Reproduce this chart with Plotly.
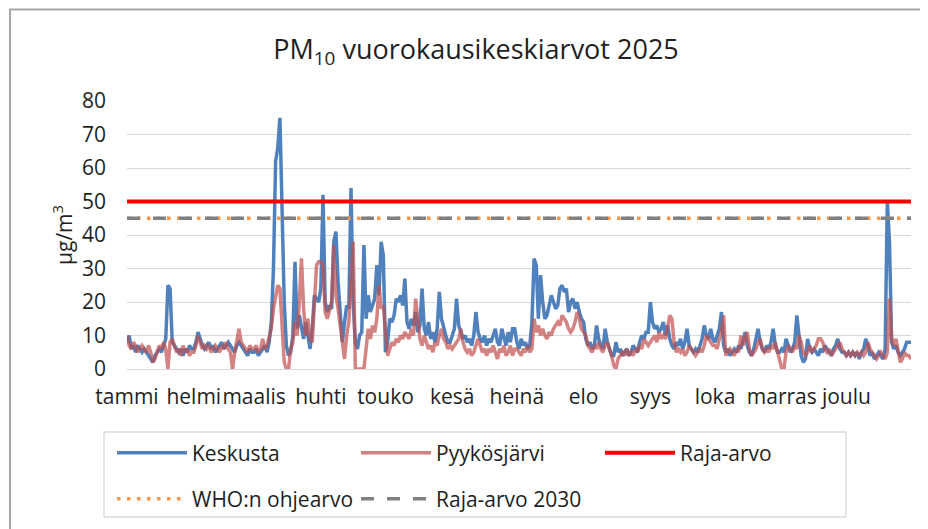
import pandas as pd
import plotly.graph_objects as go

# Päivittäiset PM10-keskiarvot 2025 (µg/m3), luettu kuvasta kuukausittain
keskusta = (
    [8, 10, 6, 7, 5, 7, 6, 5, 6, 5, 4, 3, 2, 4, 5, 6, 5, 7, 9, 25, 24, 8, 7, 6, 5, 6, 4, 6, 5, 7, 6]  # tammi
    + [6, 8, 11, 9, 7, 6, 7, 8, 6, 7, 5, 6, 7, 8, 6, 7, 8, 7, 6, 5, 7, 8, 7, 6, 5, 4, 6, 5]  # helmi
    + [5, 6, 4, 5, 6, 7, 5, 8, 14, 30, 62, 66, 75, 52, 20, 7, 4, 5, 10, 32, 12, 16, 12, 9, 14, 10, 6, 12, 22, 21, 20]  # maalis
    + [24, 52, 20, 17, 19, 18, 38, 41, 26, 16, 8, 14, 19, 18, 54, 20, 8, 6, 10, 11, 37, 15, 22, 17, 19, 21, 31, 22, 38, 34]  # huhti
    + [5, 8, 15, 14, 16, 21, 20, 22, 19, 27, 14, 12, 15, 13, 17, 11, 13, 24, 12, 10, 14, 9, 11, 8, 12, 23, 15, 12, 10, 8, 8]  # touko
    + [10, 12, 21, 13, 11, 9, 10, 8, 9, 7, 10, 17, 11, 9, 8, 10, 7, 9, 8, 10, 12, 8, 7, 12, 9, 7, 11, 8, 12, 12]  # kesä
    + [8, 6, 9, 7, 8, 6, 7, 14, 33, 31, 15, 28, 20, 15, 16, 19, 22, 20, 18, 19, 24, 25, 23, 24, 17, 20, 21, 18, 20, 17, 15]  # heinä
    + [14, 9, 7, 8, 6, 7, 13, 9, 7, 6, 12, 8, 6, 4, 4, 8, 5, 6, 4, 5, 6, 4, 5, 7, 6, 5, 8, 10, 9, 11, 11]  # elo
    + [20, 14, 12, 13, 11, 12, 14, 10, 13, 9, 7, 6, 8, 7, 9, 6, 8, 12, 7, 6, 5, 6, 5, 7, 9, 13, 10, 9, 12, 9]  # syys
    + [8, 10, 12, 17, 7, 5, 6, 4, 5, 6, 5, 7, 6, 9, 11, 7, 5, 4, 6, 9, 12, 8, 6, 5, 7, 6, 8, 12, 7, 5, 5]  # loka
    + [6, 5, 9, 7, 5, 6, 8, 16, 10, 4, 2, 3, 9, 6, 5, 6, 5, 4, 6, 5, 7, 6, 5, 4, 6, 7, 9, 6, 5, 5]  # marras
    + [4, 5, 4, 5, 4, 5, 3, 5, 6, 9, 7, 4, 5, 3, 4, 5, 4, 3, 6, 50, 38, 8, 6, 7, 5, 4, 5, 6, 8, 8, 8]  # joulu
)
pyykosjarvi = (
    [10, 7, 6, 8, 7, 5, 6, 7, 6, 5, 7, 5, 2, 3, 5, 7, 6, 8, 6, 0, 8, 9, 7, 5, 6, 4, 7, 5, 6, 4, 5]
    + [5, 7, 10, 8, 6, 7, 6, 7, 5, 6, 7, 6, 5, 7, 6, 8, 6, 5, 0, 5, 9, 12, 8, 7, 6, 5, 7, 6]
    + [6, 7, 5, 6, 9, 6, 7, 10, 12, 18, 22, 25, 24, 12, 2, 0, 0, 6, 8, 14, 10, 20, 33, 18, 10, 15, 9, 8, 18, 31, 32]
    + [32, 31, 17, 15, 18, 20, 37, 22, 18, 12, 8, 3, 10, 14, 25, 38, 0, 0, 0, 0, 0, 6, 12, 9, 13, 11, 15, 25, 18, 19]
    + [12, 4, 6, 8, 7, 9, 8, 10, 9, 11, 10, 9, 12, 10, 21, 14, 9, 7, 10, 8, 6, 7, 5, 8, 7, 10, 12, 9, 8, 6, 7]
    + [6, 7, 8, 9, 12, 8, 6, 5, 6, 4, 5, 7, 9, 7, 5, 6, 4, 6, 5, 7, 5, 3, 6, 5, 7, 4, 5, 7, 4, 6]
    + [6, 5, 4, 6, 5, 7, 5, 6, 15, 11, 13, 10, 12, 10, 9, 11, 10, 12, 13, 14, 13, 16, 15, 14, 12, 11, 12, 14, 17, 15, 12]
    + [11, 10, 7, 6, 5, 7, 6, 8, 6, 5, 7, 8, 6, 4, 1, 0, 3, 4, 5, 4, 6, 4, 5, 4, 6, 5, 7, 6, 9, 8, 7]
    + [8, 9, 10, 8, 11, 9, 10, 9, 12, 16, 15, 8, 5, 6, 5, 6, 4, 5, 7, 6, 5, 4, 5, 6, 5, 7, 10, 9, 8, 7]
    + [7, 6, 9, 11, 16, 4, 5, 6, 5, 4, 6, 5, 10, 7, 9, 11, 6, 4, 5, 6, 8, 9, 6, 5, 6, 5, 7, 6, 8, 5, 2]
    + [0, 0, 5, 7, 6, 5, 7, 6, 10, 8, 5, 4, 5, 7, 5, 6, 7, 9, 9, 8, 6, 5, 6, 4, 5, 6, 7, 8, 6, 5]
    + [4, 5, 4, 5, 4, 5, 4, 5, 4, 5, 8, 6, 5, 4, 3, 4, 5, 4, 3, 5, 21, 9, 7, 9, 6, 2, 3, 5, 4, 4, 3]
)
paivat = pd.date_range("2025-01-01", periods=len(keskusta), freq="D")

raja_arvo = 50
who_ohjearvo = 45
raja_arvo_2030 = 45

kuukaudet = ["tammi", "helmi", "maalis", "huhti", "touko", "kesä",
             "heinä", "elo", "syys", "loka", "marras", "joulu"]
kuukausi_alut = pd.date_range("2025-01-01", periods=12, freq="MS")

FONT = "Open Sans, Noto Sans, sans-serif"
TXT = "#1f1f1f"

# sivun oletusmarginaali (8 px) siirtää kuvaa, joten kaikki mitat ovat ruudun pikseleinä
OFF = 8
W, H = 928, 529
L, R, T, B = 127, 911, 101, 369   # piirtoalue ruudulla
def px(x):
    return (x - L) / (R - L)
def py(y):
    return (B - y) / (B - T)

reunat = [paivat[0], paivat[-1]]

fig = go.Figure()
fig.add_trace(go.Scatter(x=paivat, y=keskusta, mode="lines", name="Keskusta",
                         line=dict(color="#4f81bd", width=3.5), legend="legend"))
fig.add_trace(go.Scatter(x=paivat, y=pyykosjarvi, mode="lines", name="Pyykösjärvi",
                         line=dict(color="rgba(192,80,77,0.7)", width=3.5), legend="legend"))
fig.add_trace(go.Scatter(x=reunat, y=[raja_arvo] * 2, mode="lines", name="Raja-arvo",
                         line=dict(color="#ff0000", width=4), legend="legend"))
fig.add_trace(go.Scatter(x=reunat, y=[who_ohjearvo] * 2, mode="lines", name="WHO:n ohjearvo",
                         line=dict(color="#f79646", width=3.5, dash="3.5px,6.5px"), legend="legend2"))
fig.add_trace(go.Scatter(x=reunat, y=[raja_arvo_2030] * 2, mode="lines", name="Raja-arvo 2030",
                         line=dict(color="#808080", width=3.5, dash="13px,13px"), legend="legend2"))

legend_common = dict(orientation="h", font=dict(family=FONT, size=21, color=TXT),
                     bgcolor="rgba(0,0,0,0)", borderwidth=0, itemwidth=70,
                     entrywidth=159, entrywidthmode="pixels",
                     xanchor="left", yanchor="middle", traceorder="normal")

fig.update_layout(
    width=W, height=H,
    margin=dict(l=L - OFF, r=W - (R - OFF), t=T - OFF, b=H - (B - OFF), autoexpand=False),
    paper_bgcolor="white", plot_bgcolor="white",
    font=dict(family=FONT, size=21, color=TXT),
    title=dict(text="PM<sub>10</sub> vuorokausikeskiarvot 2025",
               font=dict(family=FONT, size=27, color=TXT),
               x=(476 - OFF) / W, xanchor="center", y=1 - (50 - OFF) / H, yanchor="middle"),
    xaxis=dict(range=reunat, tickvals=kuukausi_alut, ticktext=kuukaudet, tickangle=0,
               showgrid=False, zeroline=False, showline=False, ticks="",
               ticklabelstandoff=13, tickfont=dict(size=21)),
    yaxis=dict(range=[0, 80], dtick=10, showgrid=True, gridcolor="#d9d9d9", gridwidth=1.3,
               zeroline=True, zerolinecolor="#d9d9d9", zerolinewidth=1.3,
               showline=False, ticks="", ticklabelstandoff=20, tickfont=dict(size=21),
               title=dict(text="µg/m<sup>3</sup>", font=dict(size=21), standoff=3)),
    legend=dict(x=px(112), y=py(453), **legend_common),
    legend2=dict(x=px(112), y=py(499), **legend_common),
    showlegend=True,
    shapes=[
        dict(type="rect", xref="paper", yref="paper", x0=px(104), x1=px(846),
             y0=py(432), y1=py(517), line=dict(color="#d9d9d9", width=1.3)),
        dict(type="rect", xref="paper", yref="paper", x0=px(10), x1=px(940),
             y0=py(9.5), y1=py(540), line=dict(color="#a6a6a6", width=2)),
    ],
)

fig.write_html("out.html")
